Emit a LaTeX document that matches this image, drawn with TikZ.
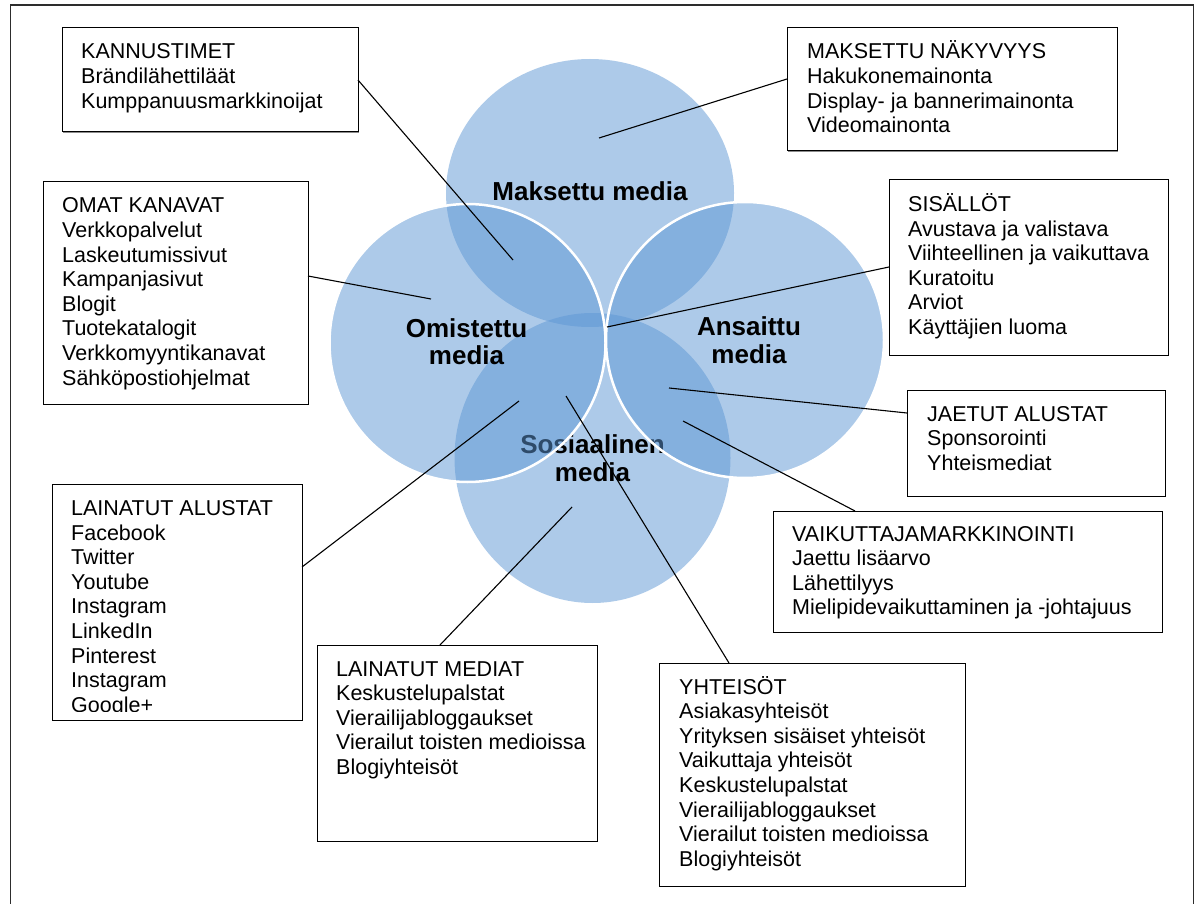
\documentclass[tikz,border=0pt]{standalone}
\usepackage{fontspec}
\setmainfont{Liberation Sans}
\usetikzlibrary{shadows,calc}
\definecolor{vennblue}{RGB}{93,151,213}
\definecolor{framegray}{RGB}{45,45,45}
\newcommand\linesof[1]{\begin{tabular}[t]{@{}l@{}}#1\end{tabular}}
\newcommand\labelof[1]{\begin{tabular}[t]{@{}c@{}}#1\end{tabular}}
\begin{document}
\begin{tikzpicture}[x=1pt,y=-1pt,
  infobox/.style={draw=black, line width=1pt, fill=white, inner sep=0pt, outer sep=0pt, anchor=north west,
    drop shadow={shadow xshift=1.2pt, shadow yshift=-1.2pt, fill=black!45, opacity=1}},
  infotext/.style={anchor=base west, inner sep=0pt, font=\fontsize{21.5}{24.6}\selectfont},
  venn/.style={fill=vennblue, fill opacity=0.5},
  vennrim/.style={draw=white, line width=2.5pt},
  vennlabel/.style={anchor=base, inner sep=0pt, font=\fontsize{26}{28}\selectfont\bfseries},
  leader/.style={draw=black, line width=1.1pt}]
\useasboundingbox (0,0) rectangle (1200,904);
\clip (0,0) rectangle (1200,904);
\fill[white] (0,0) rectangle (1200,904);
% outer frame
\draw[framegray, line width=1.8pt] (10.5,5) rectangle (1193.5,960);

% circles
\fill[venn] (590,193) ellipse [x radius=144pt, y radius=134pt];
\node[vennlabel] (lmaks) at (590,201) {\labelof{Maksettu media}};
\fill[venn] (592.5,458) ellipse [x radius=138pt, y radius=145pt];
\node[vennlabel] (lsos) at (592.5,453) {\labelof{Sosiaalinen\\media}};
\fill[venn] (467.5,343) ellipse [x radius=138pt, y radius=139pt];
\fill[venn] (745,340) ellipse [x radius=139pt, y radius=138pt];
\draw[vennrim] (467.5,343) ellipse [x radius=138pt, y radius=139pt];
\draw[vennrim] (745,340) ellipse [x radius=139pt, y radius=138pt];
\node[vennlabel] (lomi) at (466.5,337) {\labelof{Omistettu\\media}};
\node[vennlabel] (lans) at (749,335) {\labelof{Ansaittu\\media}};

% boxes
\node[infobox, minimum width=296pt, minimum height=104pt] (kann) at (62,28) {};
\node[infotext] (kannt) at ($(kann.north west)+(19,31)$) {\linesof{KANNUSTIMET\\Brändilähettiläät\\Kumppanuusmarkkinoijat}};

\node[infobox, minimum width=330pt, minimum height=123pt] (maks) at (787,28) {};
\node[infotext] (makst) at ($(maks.north west)+(20,31)$) {\linesof{MAKSETTU NÄKYVYYS\\Hakukonemainonta\\Display- ja bannerimainonta\\Videomainonta}};

\node[infobox, minimum width=265pt, minimum height=222pt] (omat) at (43,182) {};
\node[infotext] (omatt) at ($(omat.north west)+(19,31)$) {\linesof{OMAT KANAVAT\\Verkkopalvelut\\Laskeutumissivut\\Kampanjasivut\\Blogit\\Tuotekatalogit\\Verkkomyyntikanavat\\Sähköpostiohjelmat}};

\node[infobox, minimum width=279pt, minimum height=175pt] (sis) at (889,180) {};
\node[infotext] (sist) at ($(sis.north west)+(19,31.5)$) {\linesof{SISÄLLÖT\\Avustava ja valistava\\Viihteellinen ja vaikuttava\\Kuratoitu\\Arviot\\Käyttäjien luoma}};

\node[infobox, minimum width=258pt, minimum height=106pt] (jaet) at (907,390) {};
\node[infotext] (jaett) at ($(jaet.north west)+(20,31)$) {\linesof{JAETUT ALUSTAT\\Sponsorointi\\Yhteismediat}};

\node[infobox, minimum width=389pt, minimum height=121pt] (vaik) at (773,511) {};
\node[infotext] (vaikt) at ($(vaik.north west)+(19,30)$) {\linesof{VAIKUTTAJAMARKKINOINTI\\Jaettu lisäarvo\\Lähettilyys\\Mielipidevaikuttaminen ja -johtajuus}};

\node[infobox, minimum width=250pt, minimum height=236pt] (laina) at (52,484) {};
\begin{scope}
\clip (52,484) rectangle (302,711);
\node[infotext] (lainat) at ($(laina.north west)+(19,31.5)$) {\linesof{LAINATUT ALUSTAT\\Facebook\\Twitter\\Youtube\\Instagram\\LinkedIn\\Pinterest\\Instagram\\Google+}};
\end{scope}

\node[infobox, minimum width=280pt, minimum height=196pt] (lainm) at (317,645) {};
\node[infotext] (lainmt) at ($(lainm.north west)+(19,31)$) {\linesof{LAINATUT MEDIAT\\Keskustelupalstat\\Vierailijabloggaukset\\Vierailut toisten medioissa\\Blogiyhteisöt}};

\node[infobox, minimum width=306pt, minimum height=223pt] (yht) at (659,663) {};
\node[infotext] (yhtt) at ($(yht.north west)+(20,31)$) {\linesof{YHTEISÖT\\Asiakasyhteisöt\\Yrityksen sisäiset yhteisöt\\Vaikuttaja yhteisöt\\Keskustelupalstat\\Vierailijabloggaukset\\Vierailut toisten medioissa\\Blogiyhteisöt}};

% leader end points
\coordinate (p1) at (513,260);
\coordinate (p2) at (599,138);
\coordinate (p3) at (431,299);
\coordinate (p4) at (607,327);
\coordinate (p5) at (669,388);
\coordinate (p6) at (683,421);
\coordinate (p7) at (519,401);
\coordinate (p8) at (572,507);
\coordinate (p9) at (566,396);

\draw[leader] (kann.east) -- (p1);
\draw[leader] ($(maks.north west)+(0,51)$) -- (p2);
\draw[leader] ($(omat.north east)+(0,94)$) -- (p3);
\draw[leader] ($(sis.north west)+(0,87)$) -- (p4);
\draw[leader] ($(jaet.north west)+(0,23)$) -- (p5);
\draw[leader] ($(vaik.north west)+(82,0)$) -- (p6);
\draw[leader] ($(laina.north east)+(0,83)$) -- (p7);
\draw[leader] ($(lainm.north west)+(123,0)$) -- (p8);
\draw[leader] ($(yht.north west)+(70,0)$) -- (p9);
\end{tikzpicture}
\end{document}
